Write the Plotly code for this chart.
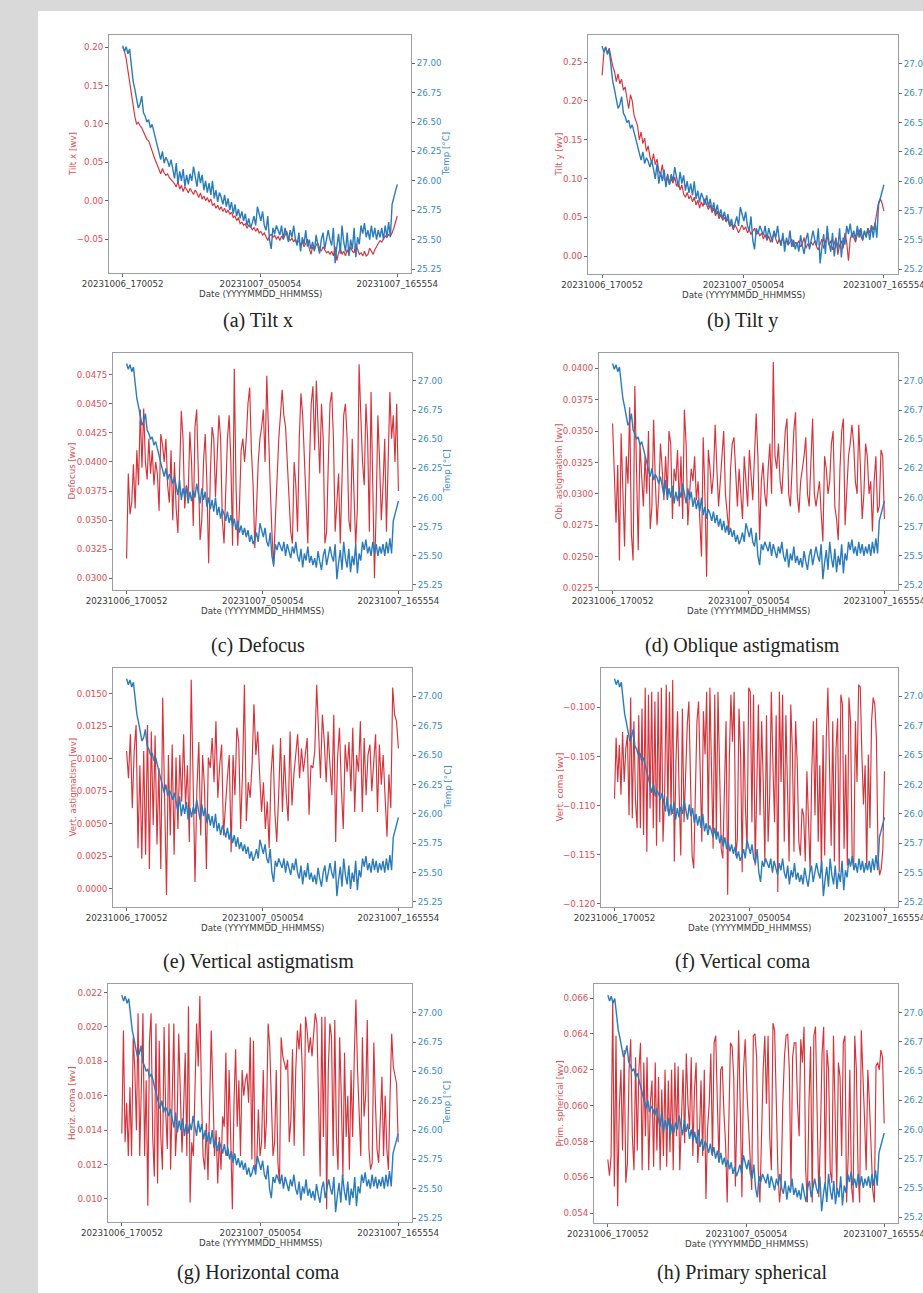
import numpy as np
import plotly.graph_objects as go

W, H = 923, 1293

# ---------------- data ----------------
T_END = 23.917  # hours between 20231006_170052 and 20231007_165554
x_tickvals = [0.0, 12.0, T_END]
x_ticktext = ["20231006_170052", "20231007_050054", "20231007_165554"]

temp = [
    27.15, 27.10, 27.14, 27.08, 27.12, 26.95, 26.85, 26.78, 26.70, 26.62,
    26.65, 26.72, 26.58, 26.55, 26.50, 26.52, 26.45, 26.48, 26.42, 26.36,
    26.30, 26.22, 26.18, 26.25, 26.15, 26.20, 26.17, 26.12, 26.18, 26.10,
    26.02, 26.15, 25.98, 26.08, 26.00, 26.10, 25.95, 26.05, 25.97, 26.06,
    26.00, 26.12, 26.02, 25.95, 26.08, 25.98, 26.05, 25.92, 26.00, 25.90,
    25.98, 25.88, 26.00, 25.85, 25.92, 25.82, 25.90, 25.86, 25.80, 25.88,
    25.78, 25.85, 25.75, 25.82, 25.72, 25.80, 25.70, 25.76, 25.68, 25.74,
    25.66, 25.72, 25.62, 25.68, 25.60, 25.64, 25.70, 25.62, 25.78, 25.72,
    25.66, 25.74, 25.62, 25.58, 25.70, 25.50, 25.42, 25.60, 25.55, 25.62,
    25.58, 25.54, 25.62, 25.50, 25.60, 25.55, 25.48, 25.58, 25.52, 25.62,
    25.50, 25.45, 25.56, 25.40, 25.52, 25.46, 25.58, 25.44, 25.50, 25.42,
    25.48, 25.40, 25.54, 25.45, 25.38, 25.50, 25.56, 25.42, 25.52, 25.58,
    25.50, 25.45, 25.60, 25.30, 25.44, 25.55, 25.38, 25.62, 25.48, 25.40,
    25.56, 25.36, 25.50, 25.42, 25.60, 25.35, 25.52, 25.46, 25.62, 25.55,
    25.64, 25.52, 25.58, 25.50, 25.62, 25.52, 25.60, 25.50, 25.58, 25.52,
    25.60, 25.50, 25.62, 25.52, 25.65, 25.52, 25.80, 25.85, 25.90, 25.97,
]

tilt_x = [
    0.200, 0.195, 0.185, 0.170, 0.150, 0.135, 0.120, 0.110, 0.100, 0.102,
    0.098, 0.095, 0.090, 0.085, 0.080, 0.078, 0.070, 0.065, 0.058, 0.052,
    0.048, 0.040, 0.035, 0.042, 0.036, 0.033, 0.035, 0.030, 0.028, 0.025,
    0.022, 0.018, 0.025, 0.015, 0.020, 0.012, 0.018, 0.015, 0.010, 0.016,
    0.012, 0.008, 0.014, 0.010, 0.004, 0.010, 0.002, 0.006, 0.000, 0.004,
    -0.002, 0.002, -0.006, -0.004, -0.010, -0.006, -0.012, -0.008, -0.014, -0.010,
    -0.016, -0.012, -0.018, -0.015, -0.022, -0.020, -0.026, -0.022, -0.030, -0.028,
    -0.032, -0.030, -0.036, -0.032, -0.034, -0.038, -0.035, -0.040, -0.036, -0.042,
    -0.040, -0.045, -0.042, -0.048, -0.052, -0.046, -0.044, -0.048, -0.045, -0.050,
    -0.047, -0.052, -0.046, -0.050, -0.044, -0.040, -0.048, -0.052, -0.049, -0.054,
    -0.050, -0.055, -0.052, -0.058, -0.054, -0.060, -0.056, -0.050, -0.062, -0.070,
    -0.060, -0.064, -0.058, -0.055, -0.062, -0.066, -0.060, -0.064, -0.068, -0.066,
    -0.070, -0.066, -0.072, -0.060, -0.078, -0.068, -0.062, -0.070, -0.066, -0.072,
    -0.064, -0.070, -0.060, -0.066, -0.068, -0.056, -0.064, -0.070, -0.068, -0.072,
    -0.066, -0.072, -0.070, -0.062, -0.066, -0.070, -0.064, -0.060, -0.056, -0.052,
    -0.054, -0.050, -0.046, -0.048, -0.044, -0.046, -0.042, -0.036, -0.028, -0.020,
]

tilt_y = [
    0.233, 0.262, 0.270, 0.262, 0.268, 0.255, 0.245, 0.238, 0.225, 0.235,
    0.222, 0.228, 0.214, 0.218, 0.205, 0.190, 0.208, 0.200, 0.182, 0.175,
    0.168, 0.150, 0.160, 0.145, 0.152, 0.135, 0.142, 0.128, 0.120, 0.132,
    0.118, 0.125, 0.110, 0.105, 0.118, 0.100, 0.096, 0.106, 0.092, 0.100,
    0.094, 0.102, 0.090, 0.096, 0.085, 0.092, 0.080, 0.076, 0.082, 0.074,
    0.078, 0.070, 0.076, 0.066, 0.072, 0.062, 0.070, 0.064, 0.074, 0.066,
    0.060, 0.066, 0.056, 0.062, 0.052, 0.058, 0.048, 0.054, 0.046, 0.050,
    0.044, 0.048, 0.038, 0.042, 0.034, 0.040, 0.036, 0.030, 0.036, 0.040,
    0.034, 0.038, 0.030, 0.034, 0.028, 0.032, 0.036, 0.028, 0.032, 0.026,
    0.030, 0.022, 0.028, 0.020, 0.026, 0.018, 0.024, 0.030, 0.022, 0.016,
    0.022, 0.018, 0.024, 0.016, 0.020, 0.014, 0.018, 0.022, 0.012, 0.018,
    0.014, 0.020, 0.012, 0.016, 0.024, 0.010, 0.016, 0.012, 0.018, 0.014,
    0.020, 0.012, 0.008, 0.016, 0.022, 0.010, 0.018, 0.026, 0.014, 0.020,
    0.008, 0.016, 0.024, 0.002, 0.014, 0.020, 0.010, 0.030, 0.018, -0.006,
    0.022, 0.030, 0.024, 0.018, 0.028, 0.034, 0.026, 0.020, 0.032, 0.026,
    0.036, 0.030, 0.040, 0.034, 0.042, 0.055, 0.070, 0.074, 0.068, 0.058,
]

defocus = [
    0.0317, 0.0390, 0.0355, 0.0365, 0.0398, 0.0360, 0.0410, 0.0380, 0.0445, 0.0395,
    0.0446, 0.0400, 0.0385, 0.0420, 0.0390, 0.0410, 0.0380, 0.0400, 0.0390, 0.0358,
    0.0424, 0.0415, 0.0400, 0.0420, 0.0380, 0.0365, 0.0410, 0.0350, 0.0400, 0.0360,
    0.0339, 0.0400, 0.0444, 0.0420, 0.0360, 0.0380, 0.0370, 0.0426, 0.0400, 0.0345,
    0.0430, 0.0445, 0.0380, 0.0333, 0.0350, 0.0400, 0.0424, 0.0380, 0.0313, 0.0390,
    0.0430, 0.0420, 0.0370, 0.0400, 0.0440, 0.0420, 0.0350, 0.0330, 0.0380, 0.0420,
    0.0440, 0.0400, 0.0328, 0.0480, 0.0380, 0.0328, 0.0360, 0.0410, 0.0420, 0.0400,
    0.0420, 0.0450, 0.0464, 0.0410, 0.0380, 0.0326, 0.0360, 0.0400, 0.0420, 0.0430,
    0.0445, 0.0400, 0.0474, 0.0420, 0.0380, 0.0340, 0.0310, 0.0350, 0.0390, 0.0420,
    0.0440, 0.0462, 0.0440, 0.0430, 0.0400, 0.0365, 0.0340, 0.0330, 0.0400, 0.0380,
    0.0340, 0.0420, 0.0459, 0.0440, 0.0400, 0.0360, 0.0330, 0.0400, 0.0450, 0.0465,
    0.0410, 0.0470, 0.0430, 0.0390, 0.0450, 0.0420, 0.0330, 0.0340, 0.0400, 0.0450,
    0.0460, 0.0420, 0.0340, 0.0365, 0.0390, 0.0330, 0.0380, 0.0440, 0.0450, 0.0420,
    0.0350, 0.0340, 0.0420, 0.0380, 0.0328, 0.0360, 0.0484, 0.0440, 0.0400, 0.0380,
    0.0450, 0.0420, 0.0340, 0.0460, 0.0380, 0.0300, 0.0360, 0.0440, 0.0400, 0.0350,
    0.0380, 0.0420, 0.0340, 0.0400, 0.0460, 0.0420, 0.0440, 0.0400, 0.0450, 0.0375,
]

obl_astig = [
    0.0356, 0.0311, 0.0277, 0.0323, 0.0247, 0.0348, 0.0300, 0.0258, 0.0330, 0.0308,
    0.0369, 0.0268, 0.0247, 0.0386, 0.0320, 0.0255, 0.0340, 0.0310, 0.0290, 0.0330,
    0.0300, 0.0350, 0.0272, 0.0290, 0.0359, 0.0310, 0.0275, 0.0300, 0.0340, 0.0320,
    0.0295, 0.0330, 0.0300, 0.0350, 0.0340, 0.0280, 0.0320, 0.0310, 0.0335, 0.0290,
    0.0330, 0.0280, 0.0367, 0.0340, 0.0275, 0.0300, 0.0320, 0.0310, 0.0330, 0.0295,
    0.0310, 0.0280, 0.0250, 0.0345, 0.0300, 0.0234, 0.0335, 0.0320, 0.0300, 0.0315,
    0.0355, 0.0320, 0.0290, 0.0310, 0.0335, 0.0350, 0.0300, 0.0285, 0.0270, 0.0320,
    0.0340, 0.0345, 0.0310, 0.0290, 0.0320, 0.0300, 0.0280, 0.0330, 0.0310, 0.0290,
    0.0335, 0.0310, 0.0295, 0.0330, 0.0364, 0.0330, 0.0263, 0.0310, 0.0325, 0.0300,
    0.0290, 0.0320, 0.0340, 0.0300, 0.0405, 0.0330, 0.0320, 0.0340, 0.0310, 0.0300,
    0.0330, 0.0350, 0.0360, 0.0300, 0.0290, 0.0320, 0.0350, 0.0365, 0.0300, 0.0285,
    0.0310, 0.0320, 0.0330, 0.0345, 0.0300, 0.0290, 0.0330, 0.0360, 0.0300, 0.0290,
    0.0300, 0.0310, 0.0285, 0.0262, 0.0330, 0.0320, 0.0300, 0.0310, 0.0340, 0.0350,
    0.0290, 0.0280, 0.0263, 0.0320, 0.0350, 0.0360, 0.0275, 0.0300, 0.0330, 0.0340,
    0.0355, 0.0340, 0.0310, 0.0300, 0.0355, 0.0320, 0.0280, 0.0300, 0.0340, 0.0330,
    0.0300, 0.0310, 0.0270, 0.0310, 0.0330, 0.0285, 0.0290, 0.0335, 0.0330, 0.0280,
]

vert_astig = [
    0.0106, 0.0085, 0.0119, 0.0062, 0.0106, 0.0126, 0.0031, 0.0095, 0.0023, 0.0106,
    0.0026, 0.0126, 0.0015, 0.0121, 0.0049, 0.0118, 0.0034, 0.0093, 0.0015, 0.0147,
    0.0070, -0.0005, 0.0103, 0.0041, 0.0111, 0.0026, 0.0101, 0.0046, 0.0103, 0.0067,
    0.0119, 0.0064, 0.0095, 0.0036, 0.0161, 0.0090, 0.0005, 0.0077, 0.0113, 0.0041,
    0.0103, 0.0077, 0.0015, 0.0101, 0.0093, 0.0116, 0.0082, 0.0129, 0.0070, 0.0095,
    0.0111, 0.0041, 0.0067, 0.0085, 0.0103, 0.0028, 0.0103, 0.0072, 0.0124, 0.0113,
    0.0046, 0.0090, 0.0157, 0.0052, 0.0082, 0.0070, 0.0095, 0.0142, 0.0103, 0.0121,
    0.0088, 0.0059, 0.0082, 0.0046, 0.0067, 0.0031, 0.0088, 0.0111, 0.0059, 0.0036,
    0.0072, 0.0116, 0.0059, 0.0103, 0.0072, 0.0052, 0.0121, 0.0064, 0.0088, 0.0103,
    0.0119, 0.0085, 0.0108, 0.0090, 0.0106, 0.0116, 0.0057, 0.0095, 0.0093, 0.0106,
    0.0157, 0.0113, 0.0085, 0.0134, 0.0113, 0.0082, 0.0121, 0.0095, 0.0072, 0.0134,
    0.0036, 0.0101, 0.0124, 0.0077, 0.0046, 0.0111, 0.0090, 0.0113, 0.0075, 0.0124,
    0.0059, 0.0103, 0.0090, 0.0129, 0.0059, 0.0116, 0.0072, 0.0103, 0.0111, 0.0075,
    0.0095, 0.0119, 0.0059, 0.0111, 0.0080, 0.0103, 0.0070, 0.0040, 0.0088, 0.0062,
    0.0155, 0.0134, 0.0129, 0.0108,
]

vert_coma = [
    -0.1093, -0.1031, -0.1076, -0.1038, -0.1089, -0.1025, -0.1076, -0.1042, -0.1028, -0.1110,
    -0.0990, -0.1113, -0.1014, -0.1096, -0.1123, -0.1008, -0.1123, -0.1001, -0.1130, -0.0980,
    -0.1147, -0.0987, -0.1103, -0.0984, -0.1123, -0.0994, -0.1141, -0.0984, -0.1117, -0.0980,
    -0.1137, -0.1089, -0.0977, -0.1106, -0.0984, -0.1110, -0.0972, -0.1157, -0.1055, -0.1004,
    -0.1089, -0.1151, -0.1001, -0.1117, -0.1069, -0.1018, -0.0994, -0.1089, -0.1151, -0.1164,
    -0.1069, -0.1014, -0.0994, -0.1076, -0.1137, -0.1004, -0.1048, -0.0984, -0.1123, -0.0980,
    -0.1082, -0.1144, -0.0987, -0.1130, -0.0984, -0.1076, -0.1144, -0.1154, -0.1082, -0.1014,
    -0.1191, -0.1055, -0.0987, -0.1035, -0.0984, -0.1151, -0.1134, -0.1001, -0.1048, -0.1168,
    -0.1014, -0.1103, -0.1144, -0.0980, -0.0984, -0.1117, -0.0987, -0.1161, -0.1082, -0.0997,
    -0.1110, -0.1014, -0.1076, -0.1157, -0.1008, -0.1137, -0.1089, -0.0984, -0.1059, -0.1117,
    -0.1008, -0.1188, -0.0984, -0.1076, -0.0987, -0.1137, -0.1008, -0.1076, -0.1157, -0.0997,
    -0.1042, -0.1147, -0.1014, -0.1055, -0.1137, -0.1151, -0.1103, -0.1110, -0.1157, -0.1065,
    -0.1130, -0.1168, -0.1065, -0.1014, -0.1110, -0.1011, -0.1137, -0.1059, -0.1168, -0.1028,
    -0.1151, -0.1031, -0.0980, -0.1082, -0.1141, -0.1014, -0.1157, -0.1042, -0.1011, -0.1168,
    -0.0987, -0.0997, -0.1144, -0.1048, -0.1161, -0.0990, -0.1014, -0.1151, -0.1164, -0.1014,
    -0.1076, -0.0977, -0.0979, -0.1048, -0.1099, -0.1059, -0.1164, -0.1048, -0.1123, -0.1014,
    -0.0990, -0.0997, -0.1031, -0.1151, -0.1171, -0.1164, -0.1144, -0.1065,
]

horiz_coma = [
    0.0138, 0.0198, 0.0133, 0.0156, 0.0125, 0.0165, 0.0125, 0.0194, 0.0175, 0.0140,
    0.0208, 0.0125, 0.0165, 0.0208, 0.0125, 0.0169, 0.0096, 0.0191, 0.0208, 0.0136,
    0.0113, 0.0202, 0.0109, 0.0192, 0.0136, 0.0117, 0.0200, 0.0150, 0.0129, 0.0202,
    0.0117, 0.0171, 0.0202, 0.0125, 0.0144, 0.0196, 0.0152, 0.0127, 0.0152, 0.0185,
    0.0125, 0.0212, 0.0098, 0.0133, 0.0125, 0.0169, 0.0202, 0.0177, 0.0218, 0.0160,
    0.0125, 0.0117, 0.0144, 0.0111, 0.0156, 0.0198, 0.0165, 0.0125, 0.0140, 0.0109,
    0.0136, 0.0117, 0.0148, 0.0142, 0.0185, 0.0125, 0.0175, 0.0136, 0.0094, 0.0156,
    0.0187, 0.0142, 0.0169, 0.0125, 0.0175, 0.0160, 0.0169, 0.0173, 0.0156, 0.0194,
    0.0123, 0.0192, 0.0117, 0.0121, 0.0152, 0.0125, 0.0133, 0.0175, 0.0129, 0.0146,
    0.0202, 0.0189, 0.0160, 0.0125, 0.0133, 0.0175, 0.0121, 0.0109, 0.0194, 0.0183,
    0.0179, 0.0175, 0.0181, 0.0133, 0.0146, 0.0187, 0.0131, 0.0175, 0.0198, 0.0187,
    0.0202, 0.0175, 0.0125, 0.0206, 0.0198, 0.0185, 0.0194, 0.0183, 0.0196, 0.0208,
    0.0202, 0.0146, 0.0113, 0.0206, 0.0136, 0.0206, 0.0094, 0.0175, 0.0202, 0.0194,
    0.0125, 0.0204, 0.0136, 0.0117, 0.0194, 0.0160, 0.0113, 0.0185, 0.0136, 0.0160,
    0.0117, 0.0175, 0.0136, 0.0183, 0.0216, 0.0175, 0.0150, 0.0125, 0.0194, 0.0148,
    0.0160, 0.0204, 0.0129, 0.0117, 0.0121, 0.0191, 0.0156, 0.0129, 0.0121, 0.0144,
    0.0171, 0.0125, 0.0160, 0.0129, 0.0117, 0.0160, 0.0196, 0.0177, 0.0171, 0.0167,
    0.0133,
]

prim_spherical = [
    0.0570, 0.0561, 0.0572, 0.0659, 0.0555, 0.0639, 0.0544, 0.0598, 0.0620, 0.0575,
    0.0631, 0.0557, 0.0568, 0.0620, 0.0637, 0.0583, 0.0564, 0.0627, 0.0575, 0.0620,
    0.0635, 0.0564, 0.0624, 0.0583, 0.0627, 0.0564, 0.0601, 0.0614, 0.0566, 0.0624,
    0.0575, 0.0616, 0.0564, 0.0609, 0.0572, 0.0620, 0.0566, 0.0614, 0.0574, 0.0620,
    0.0564, 0.0624, 0.0583, 0.0622, 0.0564, 0.0598, 0.0620, 0.0579, 0.0629, 0.0601,
    0.0587, 0.0627, 0.0572, 0.0609, 0.0624, 0.0568, 0.0583, 0.0614, 0.0572, 0.0620,
    0.0548, 0.0587, 0.0601, 0.0629, 0.0572, 0.0635, 0.0639, 0.0601, 0.0568, 0.0620,
    0.0622, 0.0596, 0.0579, 0.0546, 0.0583, 0.0635, 0.0633, 0.0616, 0.0555, 0.0601,
    0.0642, 0.0598, 0.0549, 0.0620, 0.0637, 0.0609, 0.0590, 0.0572, 0.0553, 0.0639,
    0.0640, 0.0627, 0.0564, 0.0546, 0.0583, 0.0620, 0.0639, 0.0601, 0.0639, 0.0583,
    0.0564, 0.0646, 0.0642, 0.0601, 0.0564, 0.0546, 0.0557, 0.0601, 0.0627, 0.0639,
    0.0640, 0.0620, 0.0555, 0.0627, 0.0635, 0.0635, 0.0601, 0.0583, 0.0637, 0.0624,
    0.0644, 0.0564, 0.0546, 0.0601, 0.0633, 0.0546, 0.0639, 0.0644, 0.0601, 0.0549,
    0.0583, 0.0629, 0.0644, 0.0557, 0.0631, 0.0620, 0.0564, 0.0557, 0.0639, 0.0601,
    0.0553, 0.0624, 0.0616, 0.0572, 0.0635, 0.0639, 0.0546, 0.0572, 0.0620, 0.0555,
    0.0546, 0.0639, 0.0620, 0.0564, 0.0546, 0.0642, 0.0620, 0.0592, 0.0564, 0.0620,
    0.0601, 0.0574, 0.0553, 0.0546, 0.0622, 0.0624, 0.0620, 0.0631, 0.0627, 0.0590,
]

y_labels = ["Tilt x [wv]", "Tilt y [wv]", "Defocus [wv]", "Obl. astigmatism [wv]",
            "Vert. astigmatism [wv]", "Vert. coma [wv]", "Horiz. coma [wv]", "Prim. spherical [wv]"]
captions = ["(a) Tilt x", "(b) Tilt y", "(c) Defocus", "(d) Oblique astigmatism",
            "(e) Vertical astigmatism", "(f) Vertical coma", "(g) Horizontal coma", "(h) Primary spherical"]
series = [tilt_x, tilt_y, defocus, obl_astig, vert_astig, vert_coma, horiz_coma, prim_spherical]

# ---------------- layout config (pixels) ----------------
boxes = [
    (109, 411, 35, 273), (588, 898, 35, 274),
    (113, 412, 353, 590), (599, 898, 353, 590),
    (113, 412, 668, 907), (601, 898, 668, 907),
    (108, 412, 984, 1222), (594, 898, 984, 1223),
]
left_ranges = [[-0.0943, 0.216], [-0.023, 0.285], [0.0290, 0.04936], [0.02234, 0.04122],
               [-0.00142, 0.0170], [-0.12034, -0.09598], [0.00866, 0.0225], [0.05346, 0.06678]]
right_ranges = [[25.216, 27.24], [25.21, 27.245], [25.207, 27.24], [25.207, 27.24],
                [25.207, 27.242], [25.207, 27.242], [25.216, 27.245], [25.20, 27.245]]
left_ticks = [(-0.05, 0.20, 0.05), (0.0, 0.25, 0.05), (0.03, 0.0475, 0.0025), (0.0225, 0.04, 0.0025),
              (0.0, 0.015, 0.0025), (-0.12, -0.10, 0.005), (0.010, 0.022, 0.002), (0.054, 0.066, 0.002)]
left_fmt = [".2f", ".2f", ".4f", ".4f", ".4f", ".3f", ".3f", ".3f"]
ylab_x = [73, 559, 72, 559, 72, 559, 72, 559]
caption_y = [321, 321, 645, 645, 961, 961, 1272, 1272]
caption_x = [258, 742, 258, 742, 258, 742, 258, 742]

RED = "#d6323a"
BLUE = "#2a7bbb"
RED_TXT = "#dc5055"
BLUE_TXT = "#3c8cc6"
GREY_TXT = "#3a3a3a"
FRAME = "#9a9ea4"
TICKFONT = "DejaVu Sans"
FS = 8.7

fig = go.Figure()
layout = dict(
    width=W, height=H, autosize=False, margin=dict(l=0, r=0, t=0, b=0, pad=0, autoexpand=False),
    paper_bgcolor="#d9d9d9", plot_bgcolor="white", showlegend=False,
    shapes=[dict(type="rect", xref="paper", yref="paper", x0=38 / W, x1=1.0,
                 y0=0.0, y1=1 - 11 / H, fillcolor="white", line=dict(width=0), layer="below")],
    annotations=[],
)

right_tickvals = [round(25.25 + 0.25 * k, 2) for k in range(8)]
xpad = 0.05 * T_END

for i in range(8):
    l, r, t, b = boxes[i]
    xd = [l / W, r / W]
    yd = [1 - b / H, 1 - t / H]
    xa = f"xaxis{i + 1}"
    ya = f"yaxis{i + 1}"
    yb = f"yaxis{i + 9}"
    xs = f"x{i + 1}"
    ys = f"y{i + 1}"
    ys2 = f"y{i + 9}"
    s0, s1, st = left_ticks[i]
    ltv = [round(s0 + st * k, 6) for k in range(int(round((s1 - s0) / st)) + 1)]

    layout[xa] = dict(domain=xd, anchor=ys, range=[-xpad, T_END + xpad], tickmode="array",
                      tickvals=x_tickvals, ticktext=x_ticktext, showgrid=False, zeroline=False,
                      showline=True, linecolor=FRAME, linewidth=1, mirror=True, automargin=False,
                      ticks="outside", ticklen=3, tickcolor="#666", tickwidth=1,
                      ticklabeloverflow="allow",
                      tickfont=dict(family=TICKFONT, size=FS, color=GREY_TXT))
    layout[ya] = dict(domain=yd, anchor=xs, range=left_ranges[i], tickmode="array", tickvals=ltv,
                      tickformat=left_fmt[i], showgrid=False, zeroline=False, automargin=False,
                      showline=True, linecolor=FRAME, linewidth=1,
                      ticks="outside", ticklen=3, tickcolor="#666", tickwidth=1,
                      tickfont=dict(family=TICKFONT, size=FS, color=RED_TXT))
    layout[yb] = dict(domain=yd, anchor=xs, overlaying=ys, side="right", range=right_ranges[i],
                      tickmode="array", tickvals=right_tickvals, tickformat=".2f", automargin=False,
                      showgrid=False, zeroline=False, showline=True, linecolor=FRAME, linewidth=1,
                      ticks="outside", ticklen=3, tickcolor="#666", tickwidth=1,
                      ticklabeloverflow="allow",
                      tickfont=dict(family=TICKFONT, size=FS, color=BLUE_TXT))

    vals = series[i]
    fig.add_trace(go.Scatter(x=np.linspace(0, T_END, len(vals)), y=vals, mode="lines",
                             line=dict(color=RED, width=1.15), xaxis=xs, yaxis=ys))
    fig.add_trace(go.Scatter(x=np.linspace(0, T_END, len(temp)), y=temp, mode="lines",
                             line=dict(color=BLUE, width=1.4), xaxis=xs, yaxis=ys2))

    cy = (t + b) / 2
    anns = layout["annotations"]
    anns.append(dict(text=y_labels[i], x=ylab_x[i] / W, y=1 - cy / H, xref="paper", yref="paper",
                     textangle=-90, showarrow=False, xanchor="center", yanchor="middle",
                     font=dict(family=TICKFONT, size=FS, color=RED_TXT)))
    if i % 2 == 0:
        anns.append(dict(text="Temp [°C]", x=(r + 35) / W, y=1 - cy / H, xref="paper", yref="paper",
                         textangle=-90, showarrow=False, xanchor="center", yanchor="middle",
                         font=dict(family=TICKFONT, size=FS, color=BLUE_TXT)))
    anns.append(dict(text="Date (YYYYMMDD_HHMMSS)", x=(l + r) / 2 / W, y=1 - (b + 21) / H,
                     xref="paper", yref="paper", showarrow=False, xanchor="center", yanchor="middle",
                     font=dict(family=TICKFONT, size=FS, color=GREY_TXT)))
    anns.append(dict(text=captions[i], x=caption_x[i] / W, y=1 - caption_y[i] / H,
                     xref="paper", yref="paper", showarrow=False, xanchor="center", yanchor="middle",
                     font=dict(family="Liberation Serif", size=20, color="#222222")))

fig.update_layout(**layout)
fig.write_html("out.html")
